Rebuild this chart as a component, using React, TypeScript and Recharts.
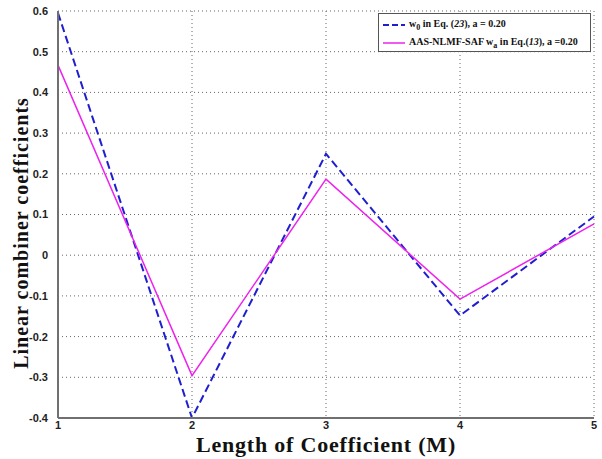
import { CartesianGrid, Label, Line, LineChart, XAxis, YAxis } from "recharts";

const lengths = [1, 2, 3, 4, 5];
const w0Eq23 = [0.595, -0.4, 0.249, -0.148, 0.095];
const waEq13 = [0.467, -0.296, 0.187, -0.108, 0.077];
const yTicks = [-0.4, -0.3, -0.2, -0.1, 0, 0.1, 0.2, 0.3, 0.4, 0.5, 0.6];

const seriesW0 = "w0 in Eq. (23), a = 0.20";
const seriesWa = "AAS-NLMF-SAF wa in Eq.(13), a =0.20";

const BLUE = "#1f1fd0";
const MAGENTA = "#ee22ee";
const AXIS = "#707070";
const SERIF = "'Liberation Serif', 'Times New Roman', serif";

const data = lengths.map((m, i) => ({ m, w0: w0Eq23[i], wa: waEq13[i] }));

const tickStyle = {
  fontFamily: "'Liberation Sans', Arial, sans-serif",
  fontWeight: 700,
  fontSize: 11,
  fill: "#222",
};

const fmt = (v: number) => (Math.abs(v) < 1e-9 ? "0" : v.toFixed(1));

const LegendBox = () => (
  <div
    style={{
      position: "absolute",
      left: 378,
      top: 13,
      width: 213,
      height: 39,
      border: "1px solid #555",
      background: "#fff",
      fontFamily: SERIF,
      fontWeight: 700,
      fontSize: 10,
      color: "#111",
      boxSizing: "border-box",
    }}
  >
    <div style={{ position: "absolute", left: 4, top: 4, display: "flex", alignItems: "center", whiteSpace: "nowrap" }}>
      <svg width={22} height={8}>
        <line x1={0} y1={4} x2={22} y2={4} stroke={BLUE} strokeWidth={2} strokeDasharray="6 3" />
      </svg>
      <span style={{ marginLeft: 4 }}>
        w<sub style={{ fontSize: 8 }}>0</sub> in Eq. (<i>23</i>), a = 0.20
      </span>
    </div>
    <div style={{ position: "absolute", left: 4, top: 22, display: "flex", alignItems: "center", whiteSpace: "nowrap" }}>
      <svg width={22} height={8}>
        <line x1={0} y1={4} x2={22} y2={4} stroke={MAGENTA} strokeWidth={1.5} />
      </svg>
      <span style={{ marginLeft: 4 }}>
        AAS-NLMF-SAF w<sub style={{ fontSize: 8 }}>a</sub> in Eq.(<i>13</i>), a =0.20
      </span>
    </div>
  </div>
);

export default function App() {
  return (
    <div style={{ position: "absolute", left: 0, top: 0, width: 602, height: 459, background: "#fff" }}>
      <LineChart width={602} height={459} data={data} margin={{ top: 11, right: 8, left: 0, bottom: 0 }}>
        <CartesianGrid stroke="#666" strokeDasharray="1 3" strokeWidth={1} />
        <XAxis
          dataKey="m"
          type="number"
          domain={[1, 5]}
          ticks={lengths}
          height={41}
          tickLine={false}
          axisLine={{ stroke: AXIS, strokeWidth: 2 }}
          tick={tickStyle}
          tickMargin={-3}
        >
          <Label
            content={() => (
              <text
                x={326}
                y={452}
                textAnchor="middle"
                fontFamily={SERIF}
                fontWeight={700}
                fontSize={22}
                letterSpacing={0.8}
                fill="#111"
              >
                Length of Coefficient (M)
              </text>
            )}
          />
        </XAxis>
        <YAxis
          type="number"
          domain={[-0.4, 0.6]}
          ticks={yTicks}
          width={58}
          tickLine={false}
          axisLine={{ stroke: AXIS, strokeWidth: 2 }}
          tick={tickStyle}
          tickMargin={4}
          tickFormatter={fmt}
          allowDataOverflow
        >
          <Label
            content={() => (
              <text
                x={0}
                y={0}
                transform="translate(28, 233) rotate(-90)"
                textAnchor="middle"
                fontFamily={SERIF}
                fontWeight={700}
                fontSize={20}
                letterSpacing={1}
                fill="#111"
              >
                Linear combiner coefficients
              </text>
            )}
          />
        </YAxis>
        <Line
          name={seriesW0}
          dataKey="w0"
          stroke={BLUE}
          strokeWidth={2}
          strokeDasharray="8 4"
          dot={false}
          isAnimationActive={false}
        />
        <Line
          name={seriesWa}
          dataKey="wa"
          stroke={MAGENTA}
          strokeWidth={1.5}
          dot={false}
          isAnimationActive={false}
        />
      </LineChart>
      <LegendBox />
    </div>
  );
}
